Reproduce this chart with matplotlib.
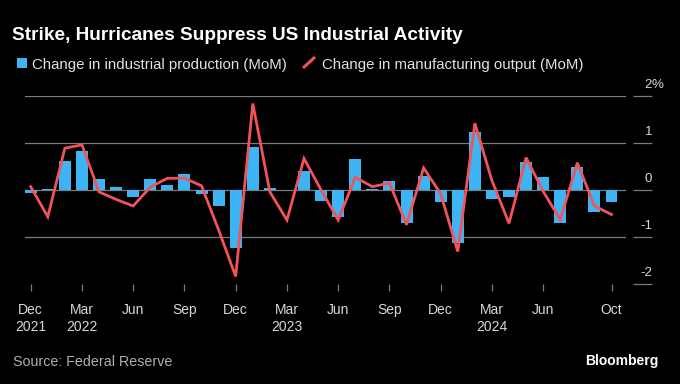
import matplotlib
matplotlib.use("Agg")
import matplotlib.pyplot as plt
from matplotlib.patches import Rectangle
from matplotlib.lines import Line2D
import numpy as np

plt.rcParams['font.family'] = ['Liberation Sans', 'DejaVu Sans']

# ---- data (Dec 2021 .. Oct 2024, monthly) ----
months = ["Dec 2021", "Jan 2022", "Feb 2022", "Mar 2022", "Apr 2022", "May 2022", "Jun 2022",
          "Jul 2022", "Aug 2022", "Sep 2022", "Oct 2022", "Nov 2022", "Dec 2022",
          "Jan 2023", "Feb 2023", "Mar 2023", "Apr 2023", "May 2023", "Jun 2023",
          "Jul 2023", "Aug 2023", "Sep 2023", "Oct 2023", "Nov 2023", "Dec 2023",
          "Jan 2024", "Feb 2024", "Mar 2024", "Apr 2024", "May 2024", "Jun 2024",
          "Jul 2024", "Aug 2024", "Sep 2024", "Oct 2024"]
industrial_production = [-0.06, 0.02, 0.62, 0.82, 0.23, 0.06, -0.14, 0.23, 0.11, 0.35,
                         -0.08, -0.33, -1.24, 0.91, 0.05, 0.01, 0.40, -0.23, -0.58, 0.67,
                         0.02, 0.20, -0.70, 0.29, -0.25, -1.12, 1.23, -0.20, -0.15, 0.60,
                         0.28, -0.71, 0.49, -0.47, -0.26]
manufacturing_output = [0.07, -0.57, 0.89, 0.96, -0.04, -0.20, -0.34, 0.06, 0.25, 0.25,
                        0.09, -0.85, -1.84, 1.84, -0.04, -0.64, 0.67, 0.00, -0.64, 0.27,
                        0.07, 0.15, -0.74, 0.47, -0.08, -1.31, 1.42, 0.20, -0.71, 0.69,
                        -0.03, -0.63, 0.58, -0.34, -0.52]
xtick_months = ["Dec 2021", "Mar 2022", "Jun 2022", "Sep 2022", "Dec 2022", "Mar 2023",
                "Jun 2023", "Sep 2023", "Dec 2023", "Mar 2024", "Jun 2024", "Oct 2024"]
xtick_labels = ["Dec\n2021", "Mar\n2022", "Jun", "Sep", "Dec", "Mar\n2023", "Jun", "Sep",
                "Dec", "Mar\n2024", "Jun", "Oct"]
ytick_values = [-2, -1, 0, 1, 2]
ytick_labels = ["-2", "-1", "0", "1", "2"]
grid_values = [-1, 0, 1, 2]

title = "Strike, Hurricanes Suppress US Industrial Activity"
legend_ip = "Change in industrial production (MoM)"
legend_mfg = "Change in manufacturing output (MoM)"
source = "Source: Federal Reserve"

BLUE = "#3DB5F4"
RED = "#F2525A"
GRID = "#7a7a7a"
BG = "#000000"

W, H = 680, 384
fig = plt.figure(figsize=(W / 100, H / 100), dpi=100, facecolor=BG)

def fx(px):
    return px / W

def fy(py):
    return 1 - py / H

ax_l, ax_r, ax_t, ax_b = 25, 652, 96, 284
ax = fig.add_axes([fx(ax_l), fy(ax_b), fx(ax_r - ax_l), (ax_b - ax_t) / H])
ax.set_facecolor(BG)

x = np.arange(len(months))
ax.set_xlim(-0.334, 36.37)
ax.set_ylim(-2, 2)

grid_frac = (625 - ax_l) / (ax_r - ax_l)
for g in grid_values:
    ax.axhline(g, xmin=0, xmax=grid_frac, color=GRID, lw=0.9, zorder=1)

ax.bar(x, industrial_production, width=0.7, color=BLUE, zorder=2)
ax.plot(x, manufacturing_output, color=RED, lw=2.0, zorder=3, solid_joinstyle='miter')

for s in ax.spines.values():
    s.set_visible(False)

# x ticks
xt = [months.index(m) for m in xtick_months]
ax.set_xticks(xt)
ax.set_xticklabels(xtick_labels, color="#d8d8d8", fontsize=10, linespacing=1.2)
ax.tick_params(axis='x', direction='out', length=5, width=0.9, color=GRID, pad=9)

# y ticks on right, inward
ax.yaxis.tick_right()
ax.set_yticks(ytick_values)
ax.tick_params(axis='y', direction='in', length=14, width=0.9, color=GRID, right=True,
               left=False, labelright=False, labelleft=False)
for v, lab in zip(ytick_values, ytick_labels):
    ax.annotate(lab, xy=(1, v), xycoords=('axes fraction', 'data'),
                xytext=(0, 6), textcoords='offset points',
                ha='right', va='baseline', color="#d8d8d8", fontsize=9.5)
    if v == max(ytick_values):
        ax.annotate("%", xy=(1, v), xycoords=('axes fraction', 'data'),
                    xytext=(0, 6), textcoords='offset points',
                    ha='left', va='baseline', color="#d8d8d8", fontsize=9.5)

# title
fig.text(fx(12), fy(39.5), title, color="white", fontsize=13.7, fontweight='bold',
         ha='left', va='baseline')

# legend
fig.patches.append(Rectangle((fx(16.7), fy(68)), fx(10), 9.5 / H, transform=fig.transFigure,
                             facecolor=BLUE, edgecolor='none'))
fig.text(fx(32.5), fy(68.5), legend_ip, color="#e0e0e0", fontsize=10.8, ha='left', va='baseline')
fig.lines.append(Line2D([fx(303), fx(315)], [fy(68), fy(57)], transform=fig.transFigure,
                        color=RED, lw=2.2, solid_capstyle='butt'))
fig.text(fx(322), fy(68.5), legend_mfg, color="#e0e0e0", fontsize=10.8, ha='left', va='baseline')

# footer
fig.text(fx(13), fy(366), source, color="#b0b0b0", fontsize=10.3, ha='left', va='baseline')
fig.text(fx(659), fy(365), "Bloomberg", color="white", fontsize=10, fontweight='bold',
         ha='right', va='baseline')

fig.savefig("out.png", dpi=100, facecolor=BG)
